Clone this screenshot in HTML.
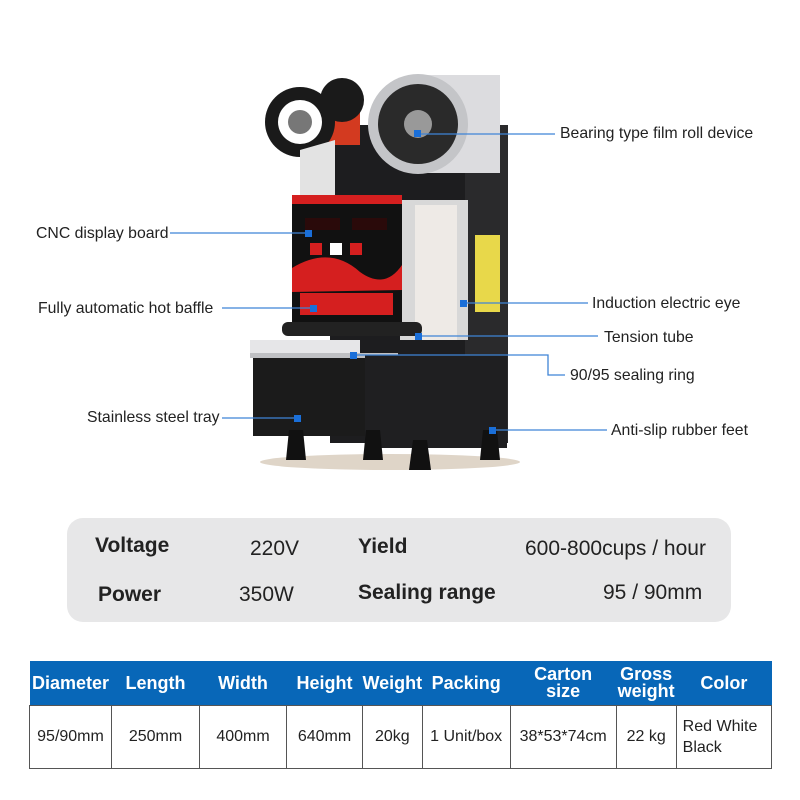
<!DOCTYPE html>
<html><head><meta charset="utf-8"><style>
body{margin:0;background:#fff;}
#c{position:relative;width:800px;height:800px;overflow:hidden;font-family:"Liberation Sans",sans-serif;}
.t{position:absolute;font-size:15.8px;color:#222;white-space:nowrap;line-height:1;}
.s{position:absolute;font-size:21px;color:#222;white-space:nowrap;line-height:1;}
.b{font-weight:bold;}
table{position:absolute;left:29px;top:661px;width:743px;border-collapse:collapse;font-family:"Liberation Sans Narrow","Liberation Sans",sans-serif;}
th{background:#0867b8;color:#fff;font-size:18px;font-weight:bold;height:44px;padding:0;line-height:17px;}
td{border:1px solid #555;font-size:16px;color:#222;height:62px;text-align:center;padding:0;}
</style></head><body><div id="c">
<svg width="800" height="800" style="position:absolute;left:0;top:0">
<ellipse cx="390" cy="462" rx="130" ry="8" fill="#c9b9a3" opacity=".6"/>
<rect x="330" y="125" width="178" height="318" fill="#1d1d1f"/>
<rect x="465" y="125" width="43" height="318" fill="#2a2a2c"/>
<rect x="475" y="235" width="25" height="77" fill="#e8d84a"/>
<rect x="400" y="200" width="68" height="140" fill="#d8d8d8"/>
<rect x="415" y="205" width="42" height="135" fill="#eeeae6"/>
<rect x="418" y="75" width="82" height="98" fill="#dcdcdf"/>
<circle cx="418" cy="124" r="50" fill="#c4c5c8"/>
<circle cx="418" cy="124" r="40" fill="#2a2a2a"/>
<circle cx="418" cy="124" r="14" fill="#999"/>
<rect x="300" y="95" width="60" height="50" fill="#d33a20"/>
<circle cx="300" cy="122" r="35" fill="#1a1a1a"/>
<circle cx="300" cy="122" r="22" fill="#fff"/>
<circle cx="300" cy="122" r="12" fill="#777"/>
<circle cx="342" cy="100" r="22" fill="#1a1a1a"/>
<polygon points="300,150 335,140 335,195 300,195" fill="#e3e3e3"/>
<rect x="292" y="195" width="110" height="130" fill="#111"/>
<rect x="292" y="195" width="110" height="9" fill="#d51f1f"/>
<path d="M292 268 Q330 245 360 272 Q385 290 402 265 L402 290 L292 292Z" fill="#d51f1f"/>
<rect x="300" y="293" width="93" height="22" fill="#d51f1f"/>
<rect x="305" y="218" width="35" height="12" fill="#2a0a0a"/>
<rect x="352" y="218" width="35" height="12" fill="#2a0a0a"/>
<rect x="330" y="243" width="12" height="12" fill="#fff"/>
<rect x="350" y="243" width="12" height="12" fill="#d51f1f"/>
<rect x="310" y="243" width="12" height="12" fill="#d51f1f"/>
<rect x="282" y="322" width="140" height="14" rx="6" fill="#222"/>
<rect x="250" y="340" width="110" height="16" fill="#e6e6e8"/>
<rect x="250" y="353" width="148" height="5" fill="#bfc0c3"/>
<rect x="253" y="358" width="118" height="78" fill="#1b1b1b"/>
<rect x="365" y="355" width="142" height="93" fill="#1f1f21"/>
<polygon points="289,430 303,430 306,460 286,460" fill="#111"/>
<polygon points="366,430 380,430 383,460 363,460" fill="#111"/>
<polygon points="413,440 427,440 431,470 409,470" fill="#111"/>
<polygon points="483,430 497,430 500,460 480,460" fill="#111"/>
<g stroke="#3f84d6" stroke-width="1.3" fill="none">
<line x1="418" y1="134" x2="555" y2="134"/>
<line x1="170" y1="233" x2="308" y2="233"/>
<line x1="222" y1="308" x2="313" y2="308"/>
<line x1="463" y1="303" x2="588" y2="303"/>
<line x1="418" y1="336" x2="598" y2="336"/>
<polyline points="353,355 548,355 548,375 565,375"/>
<line x1="222" y1="418" x2="297" y2="418"/>
<line x1="492" y1="430" x2="607" y2="430"/>
</g>
<g fill="#1a6fd9">
<rect x="414" y="130" width="7" height="7"/>
<rect x="305" y="230" width="7" height="7"/>
<rect x="310" y="305" width="7" height="7"/>
<rect x="460" y="300" width="7" height="7"/>
<rect x="415" y="333" width="7" height="7"/>
<rect x="350" y="352" width="7" height="7"/>
<rect x="294" y="415" width="7" height="7"/>
<rect x="489" y="427" width="7" height="7"/>
</g>
<rect x="67" y="518" width="664" height="104" rx="16" fill="#e7e7e8"/>
</svg>
<div class="t" style="left:560px;top:126px">Bearing type film roll device</div>
<div class="t" style="left:36px;top:226px">CNC display board</div>
<div class="t" style="left:38px;top:301px">Fully automatic hot baffle</div>
<div class="t" style="left:592px;top:296px">Induction electric eye</div>
<div class="t" style="left:604px;top:330px">Tension tube</div>
<div class="t" style="left:570px;top:368px">90/95 sealing ring</div>
<div class="t" style="left:87px;top:410px">Stainless steel tray</div>
<div class="t" style="left:611px;top:423px">Anti-slip rubber feet</div>
<div class="s b" style="left:95px;top:535px">Voltage</div>
<div class="s" style="left:250px;top:538px">220V</div>
<div class="s b" style="left:358px;top:536px">Yield</div>
<div class="s" style="left:525px;top:538px">600-800cups / hour</div>
<div class="s b" style="left:98px;top:584px">Power</div>
<div class="s" style="left:239px;top:584px">350W</div>
<div class="s b" style="left:358px;top:582px">Sealing range</div>
<div class="s" style="left:603px;top:582px">95 / 90mm</div>
<table>
<tr><th style="width:82px">Diameter</th><th style="width:88px">Length</th><th style="width:87px">Width</th><th style="width:76px">Height</th><th style="width:56px">Weight</th><th style="width:88px">Packing</th><th style="width:106px">Carton<br>size</th><th style="width:60px">Gross<br>weight</th><th>Color</th></tr>
<tr><td>95/90mm</td><td>250mm</td><td>400mm</td><td>640mm</td><td>20kg</td><td>1 Unit/box</td><td>38*53*74cm</td><td>22 kg</td><td style="text-align:left;padding-left:6px;line-height:21px">Red White<br>Black</td></tr>
</table>
</div></body></html>
